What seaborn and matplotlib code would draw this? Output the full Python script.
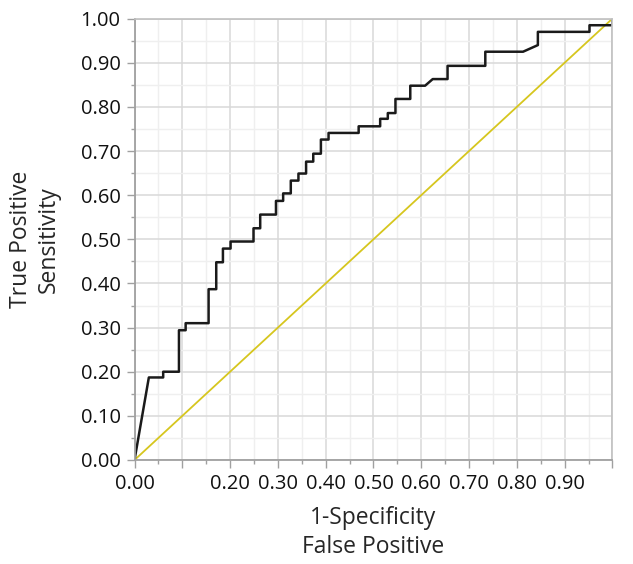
import matplotlib
matplotlib.use("Agg")
import matplotlib.pyplot as plt
import numpy as np
import pandas as pd
import seaborn as sns
from matplotlib.ticker import MultipleLocator, FixedLocator, FixedFormatter

# ROC curve corners
fpr = [0.000, 0.030, 0.060, 0.060, 0.093, 0.093, 0.107, 0.107, 0.155, 0.155,
       0.171, 0.171, 0.185, 0.185, 0.201, 0.201, 0.249, 0.249, 0.263, 0.263,
       0.296, 0.296, 0.311, 0.311, 0.327, 0.327, 0.343, 0.343, 0.359, 0.359,
       0.374, 0.374, 0.390, 0.390, 0.406, 0.406, 0.469, 0.469, 0.514, 0.514,
       0.530, 0.530, 0.546, 0.546, 0.577, 0.577, 0.608, 0.624, 0.655, 0.655,
       0.734, 0.734, 0.813, 0.844, 0.844, 0.952, 0.952, 1.000, 1.000]
tpr = [0.000, 0.187, 0.187, 0.200, 0.200, 0.294, 0.294, 0.310, 0.310, 0.387,
       0.387, 0.448, 0.448, 0.479, 0.479, 0.495, 0.495, 0.525, 0.525, 0.556,
       0.556, 0.587, 0.587, 0.604, 0.604, 0.633, 0.633, 0.649, 0.649, 0.676,
       0.676, 0.694, 0.694, 0.726, 0.726, 0.741, 0.741, 0.756, 0.756, 0.773,
       0.773, 0.786, 0.786, 0.818, 0.818, 0.848, 0.848, 0.863, 0.863, 0.893,
       0.893, 0.925, 0.925, 0.940, 0.970, 0.970, 0.985, 0.985, 1.000]
chance_x = [0.0, 1.0]
chance_y = [0.0, 1.0]

x_ticks = [0.0, 0.1, 0.2, 0.3, 0.4, 0.5, 0.6, 0.7, 0.8, 0.9, 1.0]
x_labels = ["0.00", "", "0.20", "0.30", "0.40", "0.50", "0.60", "0.70", "0.80", "0.90", ""]
y_ticks = [0.0, 0.1, 0.2, 0.3, 0.4, 0.5, 0.6, 0.7, 0.8, 0.9, 1.0]
y_labels = ["%.2f" % v for v in y_ticks]

sns.set_theme(style="white")
plt.rcParams["font.family"] = ["Open Sans", "DejaVu Sans"]

roc = pd.DataFrame({"fpr": fpr, "tpr": tpr})
diag = pd.DataFrame({"x": chance_x, "y": chance_y})

fig = plt.figure(figsize=(6.33, 5.64), dpi=100)
ax = fig.add_axes([0.2125, 0.1844, 0.755, 0.7826])

sns.lineplot(data=diag, x="x", y="y", color="#d6c61e", linewidth=1.3,
             sort=False, estimator=None, ax=ax)
sns.lineplot(data=roc, x="fpr", y="tpr", color="#1a1a1a", linewidth=1.8,
             sort=False, estimator=None, ax=ax)

ax.set_xlim(0, 1)
ax.set_ylim(0, 1)
ax.xaxis.set_major_locator(FixedLocator(x_ticks))
ax.xaxis.set_major_formatter(FixedFormatter(x_labels))
ax.yaxis.set_major_locator(FixedLocator(y_ticks))
ax.yaxis.set_major_formatter(FixedFormatter(y_labels))
ax.xaxis.set_minor_locator(MultipleLocator(0.05))
ax.yaxis.set_minor_locator(MultipleLocator(0.05))

ax.grid(which="major", color="#d9d9d9", linewidth=1.1)
ax.grid(which="minor", color="#efefef", linewidth=1.0)
ax.set_axisbelow(True)

ax.tick_params(which="major", direction="out", length=6, width=1, color="#a0a0a0",
               labelsize=14.5, labelcolor="#111111", pad=4)
ax.tick_params(which="minor", direction="out", length=3, width=1, color="#a0a0a0")
ax.tick_params(axis="x", bottom=True, which="both")
ax.tick_params(axis="y", left=True, which="both")

for side in ["left", "bottom"]:
    ax.spines[side].set_color("#a0a0a0")
    ax.spines[side].set_linewidth(1.3)
for side in ["top", "right"]:
    ax.spines[side].set_color("#c0c0c0")
    ax.spines[side].set_linewidth(1.2)

ax.set_xlabel("1-Specificity\nFalse Positive", fontsize=16.5, labelpad=9, linespacing=1.25)
ax.set_ylabel("True Positive\nSensitivity", fontsize=16.5, labelpad=14, linespacing=1.25)

fig.savefig("out.png", dpi=100)
